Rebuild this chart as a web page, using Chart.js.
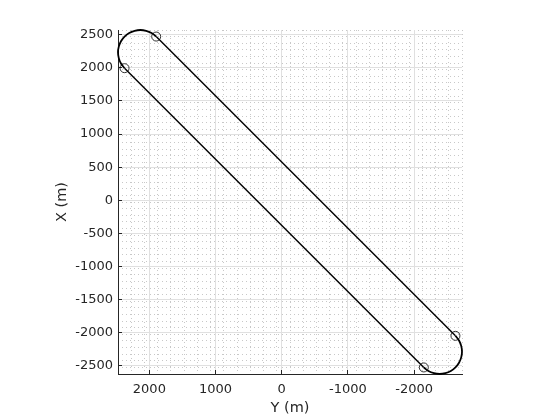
<!DOCTYPE html>
<html>
<head>
<meta charset="utf-8">
<title>Track</title>
<script src="https://cdn.jsdelivr.net/npm/chart.js@4.4.1/dist/chart.umd.min.js"></script>
<style>
  html, body { margin: 0; padding: 0; background: #fff; }
</style>
</head>
<body>
<canvas id="trackChart" width="560" height="420"></canvas>
<script>
// Horizontal axis is "Y (m)" (reversed), vertical axis is "X (m)"
const yLimits = [-2724, 2474];
const xLimits = [-2626, 2573];
const yTickValues = [2000, 1000, 0, -1000, -2000];
const xTickValues = [2500, 2000, 1500, 1000, 500, 0, -500, -1000, -1500, -2000, -2500];

// straight legs
const upperLegY = [1897, -2625];
const upperLegX = [2474, -2049];
const lowerLegY = [2375, -2147];
const lowerLegX = [1996, -2527];

// turn at the top-left end
const leftTurnY = [1897, 1967, 2049, 2136, 2223, 2305, 2375, 2429, 2462, 2474, 2462, 2429, 2375];
const leftTurnX = [2474, 2528, 2561, 2573, 2561, 2528, 2474, 2404, 2322, 2235, 2148, 2066, 1996];

// turn at the bottom-right end
const rightTurnY = [-2625, -2679, -2712, -2724, -2712, -2679, -2625, -2555, -2473, -2386, -2299, -2217, -2147];
const rightTurnX = [-2049, -2119, -2201, -2288, -2375, -2457, -2527, -2581, -2614, -2626, -2614, -2581, -2527];

// circle markers at the ends of the straight legs
const markerY = [1897, 2375, -2625, -2147];
const markerX = [2474, 1996, -2049, -2527];

const axisColor = "#262626";
const tickFont = { family: "DejaVu Sans", size: 13 };
const titleFont = { family: "DejaVu Sans", size: 14.5 };

const pts = (ys, xs) => ys.map((v, i) => ({ x: v, y: xs[i] }));

const lineSet = (data, width, tension) => ({
  data: data,
  showLine: true,
  borderColor: "#000",
  borderWidth: width,
  pointRadius: 0,
  tension: tension,
  clip: 4,
});

const ctx = document.getElementById("trackChart").getContext("2d");

new Chart(ctx, {
  type: "scatter",
  data: {
    datasets: [
      lineSet(pts(upperLegY, upperLegX), 1.4, 0),
      lineSet(pts(lowerLegY, lowerLegX), 1.4, 0),
      lineSet(pts(leftTurnY, leftTurnX), 1.8, 0.4),
      lineSet(pts(rightTurnY, rightTurnX), 1.8, 0.4),
      {
        data: pts(markerY, markerX),
        showLine: false,
        pointRadius: 4.5,
        pointBorderWidth: 0.8,
        pointBorderColor: "#000",
        pointBackgroundColor: "rgba(0,0,0,0)",
        clip: 6,
      },
    ],
  },
  options: {
    responsive: false,
    animation: false,
    layout: { padding: { left: 54, top: 30, right: 98, bottom: 3 } },
    plugins: {
      legend: { display: false },
      tooltip: { enabled: false },
    },
    scales: {
      x: {
        type: "linear",
        position: "bottom",
        reverse: true,
        min: yLimits[0],
        max: yLimits[1],
        afterBuildTicks: (s) => { s.ticks = yTickValues.map((v) => ({ value: v })); },
        afterFit: (s) => { s.height = 43; },
        ticks: { color: axisColor, font: tickFont, padding: 12, maxRotation: 0, autoSkip: false, callback: (v) => String(v) },
        grid: { color: "#e0e0e0", lineWidth: 1, tickColor: axisColor, tickLength: -4 },
        border: { display: true, color: axisColor, width: 1 },
        title: { display: true, text: "Y (m)", color: axisColor, font: titleFont, padding: 0 },
      },
      xMinor: {
        type: "linear",
        axis: "x",
        position: "bottom",
        reverse: true,
        min: yLimits[0],
        max: yLimits[1],
        afterFit: (s) => { s.height = 0; },
        ticks: { display: false, stepSize: 200, includeBounds: false },
        grid: { color: "#c8c8c8", lineWidth: 1, drawTicks: false, z: -2, borderDash: [1, 3] },
        border: { display: false, dash: [1, 3] },
      },
      y: {
        type: "linear",
        position: "left",
        min: xLimits[0],
        max: xLimits[1],
        afterBuildTicks: (s) => { s.ticks = xTickValues.map((v) => ({ value: v })); },
        afterFit: (s) => { s.width = 64; },
        ticks: { color: axisColor, font: tickFont, padding: 9, autoSkip: false, callback: (v) => String(v) },
        grid: { color: "#e0e0e0", lineWidth: 1, tickColor: axisColor, tickLength: -4 },
        border: { display: true, color: axisColor, width: 1 },
        title: { display: true, text: "X (m)", color: axisColor, font: titleFont, padding: 0 },
      },
      yMinor: {
        type: "linear",
        axis: "y",
        position: "left",
        min: xLimits[0],
        max: xLimits[1],
        afterFit: (s) => { s.width = 0; },
        ticks: { display: false, stepSize: 100, includeBounds: false },
        grid: { color: "#c8c8c8", lineWidth: 1, drawTicks: false, z: -2, borderDash: [1, 3] },
        border: { display: false, dash: [1, 3] },
      },
    },
  },
});
</script>
</body>
</html>
